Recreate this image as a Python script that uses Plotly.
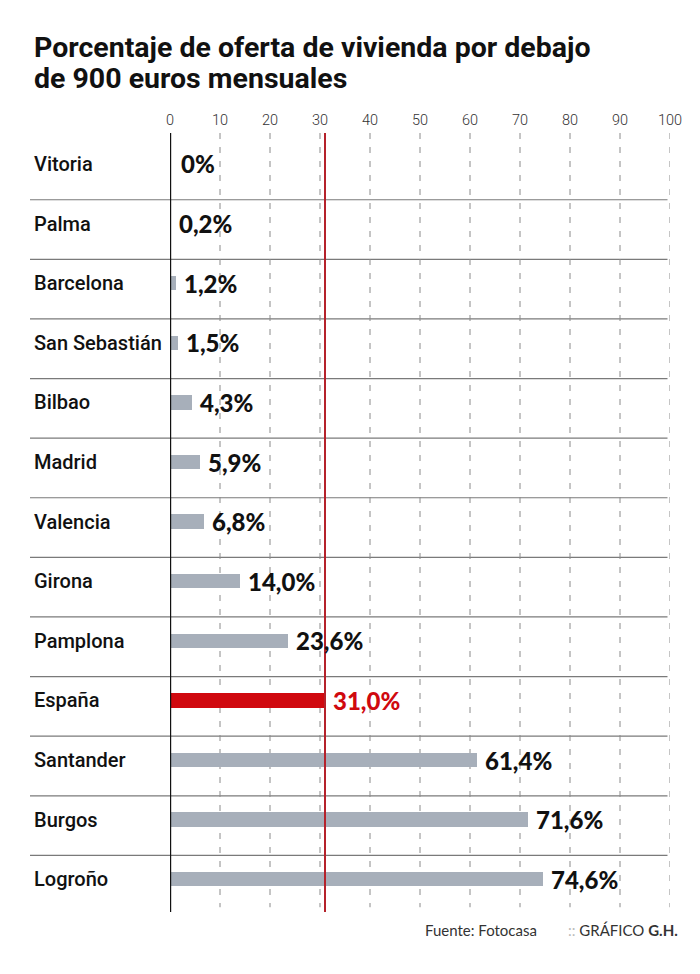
import plotly.graph_objects as go

cities = ["Vitoria", "Palma", "Barcelona", "San Sebastián", "Bilbao", "Madrid",
          "Valencia", "Girona", "Pamplona", "España", "Santander", "Burgos", "Logroño"]
values = [0.0, 0.2, 1.2, 1.5, 4.3, 5.9, 6.8, 14.0, 23.6, 31.0, 61.4, 71.6, 74.6]
labels = ["0%", "0,2%", "1,2%", "1,5%", "4,3%", "5,9%", "6,8%", "14,0%", "23,6%",
          "31,0%", "61,4%", "71,6%", "74,6%"]
highlight = "España"
reference_value = 31.0
x_ticks = list(range(0, 101, 10))
title_lines = ["Porcentaje de oferta de vivienda por debajo", "de 900 euros mensuales"]

GRAY = "#a7afba"
RED = "#d0090f"
LINE_RED = "#b5222b"

colors = [RED if c == highlight else GRAY for c in cities]
idx = list(range(len(cities)))

fig = go.Figure()
fig.add_trace(go.Bar(
    x=values, y=idx, orientation="h", marker=dict(color=colors, line=dict(width=0)),
    width=0.24, hoverinfo="skip", showlegend=False,
))

shapes = []
for t in x_ticks[1:]:
    shapes.append(dict(type="line", xref="x", yref="y", x0=t, x1=t, y0=-0.52, y1=12.47,
                       line=dict(color="#8a8a8a", width=1, dash="6px,8px"), layer="below"))
for i in range(len(cities) - 1):
    shapes.append(dict(type="line", xref="paper", yref="y", x0=-0.28, x1=0.995,
                       y0=i + 0.6, y1=i + 0.6, line=dict(color="#7a7a7a", width=1.2),
                       layer="below"))
shapes.append(dict(type="line", xref="x", yref="y", x0=0, x1=0, y0=-0.52, y1=12.55,
                   line=dict(color="#111111", width=2.4)))
shapes.append(dict(type="line", xref="x", yref="y", x0=reference_value, x1=reference_value,
                   y0=-0.52, y1=12.55, line=dict(color=LINE_RED, width=2)))

annotations = []
for i, (c, v, lab) in enumerate(zip(cities, values, labels)):
    annotations.append(dict(
        x=-0.276, xref="paper", y=i, yref="y", text=c, showarrow=False,
        xanchor="left", yanchor="middle",
        font=dict(family="Roboto", size=20, color="#111111", weight=500)))
    annotations.append(dict(
        x=v, xref="x", y=i, yref="y", text=lab, showarrow=False,
        xanchor="left", yanchor="middle", xshift=6 if v > 0 else 9,
        font=dict(family="Lato", size=24, weight=900,
                  color=RED if c == highlight else "#111111")))

for k, line in enumerate(title_lines):
    annotations.append(dict(
        x=-0.276, xref="paper", y=1, yref="paper", yshift=86 - 31 * k, text=line,
        showarrow=False, xanchor="left", yanchor="middle", align="left",
        font=dict(family="Roboto", size=28.5, weight=700, color="#111111")))

annotations.append(dict(
    x=0.506, xref="paper", y=0, yref="paper", yshift=-7,
    text="Fuente: Fotocasa", showarrow=False, xanchor="left", yanchor="top",
    font=dict(family="Lato", size=15, color="#333333")))
annotations.append(dict(
    x=0.792, xref="paper", y=0, yref="paper", yshift=-7,
    text="<span style='color:#bbbbbb'>::</span> GRÁFICO <b>G.H.</b>", showarrow=False,
    xanchor="left", yanchor="top",
    font=dict(family="Lato", size=15, color="#333333")))

fig.update_layout(
    width=700, height=974,
    margin=dict(l=170, r=30, t=133, b=62),
    paper_bgcolor="white", plot_bgcolor="white",
    shapes=shapes, annotations=annotations,
    bargap=0,
    xaxis=dict(range=[0, 100], side="top", tickvals=x_ticks, ticktext=[str(t) for t in x_ticks],
               showgrid=False, zeroline=False, showline=False, ticks="",
               ticklabelstandoff=4,
               tickfont=dict(family="Roboto", size=14.5, color="#333333", weight=300),
               fixedrange=True),
    yaxis=dict(range=[12.55, -0.52], showticklabels=False, showgrid=False, zeroline=False,
               showline=False, ticks="", fixedrange=True),
)

fig.write_html("out.html", config={"displayModeBar": False},
               post_script="document.body.style.margin='0';document.body.style.padding='0';")
